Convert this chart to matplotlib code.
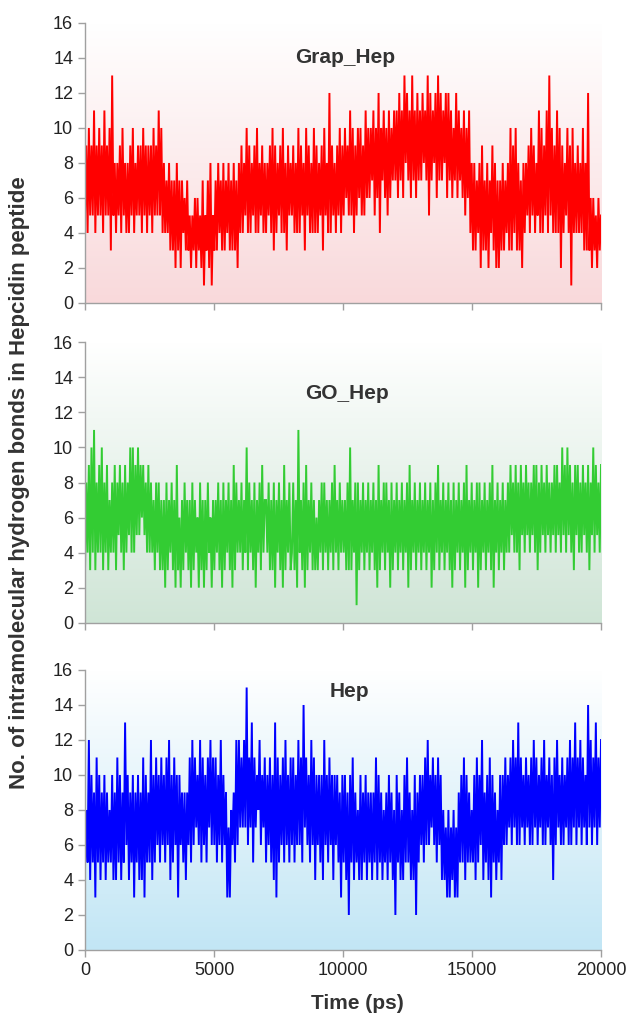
import matplotlib
matplotlib.use("Agg")
import matplotlib.pyplot as plt
import numpy as np
from matplotlib.colors import LinearSegmentedColormap

plt.rcParams["font.family"] = ["Liberation Sans", "DejaVu Sans"]

# H-bond counts, one hex digit per 50 ps frame
# (groups of 20 = 1000 ps).
grap_hep_counts = (
    "594a595b495a594b595a 3d5848594a5848495a48 59594a5949594a595b5a 48474837372837274637 "
    "35253626352715372815 37384738374837383728 49485a4948594a485948 48594a3948594a483958 "
    "59484a49583a59484a49 48593a584c4958495a49 5a695b5a495a6a595b6a 6a7b5a6c4a7b6a5b6a7b "
    "7b6c7b6d8c7b6d7b6c7b 7c8b7d5c7b8c6d7c7b8c 6c7b6a7c6b7a6b5a6b48 38374829373827493827 "
    "273837483a394a383728 48594a59485b4a495b4d 5a494b4a29485a491a48 49484a383c3626352635"
)
go_hep_counts = (
    "38493a4b38494a384937 484938594839485a4a49 5a596958494847384837 37283748372936273847 "
    "37283746283727384627 37483728374837293847 48374a38473827483947 74837382748372937483 "
    "48372b47382937483736 37483847374839473847 47383a37481837483748 37483729374838472837 "
    "48374837482937483748 37483748273849374837 48372837483748293748 37482837483748392748 "
    "37483748495849483958 49584859493849584958 485949584a594a594839 5948495849385a495849"
)
hep_counts = (
    "585c4a593b5a495a4958 5a494b5a495d6a495a39 5a494b3a595c4a5b6a5b 6a5b6c4a5b6a3a695949 "
    "6b5c6b7a6c5b6a5b7c6b 6b5a6c5a693738695c6c 7b7c7f6b7d5b7a8c6a7b 5a6b5a4d3b5a6b5c6a5b "
    "6b5a6c6b5e7b6a5c6b4a 6a5a4c6a5b6a4a6a593a 5a492a5b49584a495a49 59495b4a5948594a5948 "
    "2a59484a5b59484a295a 6a5b6c6a7b6a5b6a4847 38374837395a5b4a5958 5a4b5a6c495a4b3a5948 "
    "5a4a6b6a7b6c7b6d6b7a 6b7a6b6c7b6a7b6c6a7b 6a4b6c7a6b6a7b6c6b7d 6b7c6b7a6e7c6b7d6b7c"
)

panel_names = ["Grap_Hep", "GO_Hep", "Hep"]
panel_counts = [grap_hep_counts, go_hep_counts, hep_counts]
line_colors = ["#ff0000", "#33cc33", "#0000ff"]
bg_bottom = ["#f9d9db", "#cfe5d6", "#c2e6f5"]
label_pos = [(10100, 14.05), (10150, 13.1), (10250, 14.75)]

x_ticks = [0, 5000, 10000, 15000, 20000]
y_ticks = [0, 2, 4, 6, 8, 10, 12, 14, 16]
t_max = 20000

fig = plt.figure(figsize=(6.31, 10.17), dpi=100)
axes_boxes = [
    [0.1347, 0.7021, 0.8178, 0.2753],
    [0.1347, 0.3877, 0.8178, 0.2757],
    [0.1347, 0.0659, 0.8178, 0.2753],
]

for i, box in enumerate(axes_boxes):
    ax = fig.add_axes(box)
    vals = np.array([int(c, 16) for c in panel_counts[i].replace(" ", "")])
    t = np.linspace(0, t_max, len(vals))

    # white-to-tint vertical gradient behind the trace
    cmap = LinearSegmentedColormap.from_list("bg", ["#ffffff", bg_bottom[i]])
    grad = np.linspace(0, 1, 256).reshape(-1, 1)
    ax.imshow(grad, extent=[0, t_max, 0, 16], aspect="auto", cmap=cmap,
              origin="upper", zorder=0)

    ax.plot(t, vals, color=line_colors[i], lw=1.4, solid_joinstyle="miter", zorder=2)
    ax.text(*label_pos[i], panel_names[i], ha="center", va="center",
            fontsize=15, fontweight="bold", color="#333333", zorder=3)

    ax.set_xlim(0, t_max)
    ax.set_ylim(0, 16)
    ax.set_xticks(x_ticks)
    ax.set_yticks(y_ticks)
    for side in ["top", "right"]:
        ax.spines[side].set_visible(False)
    for side in ["left", "bottom"]:
        ax.spines[side].set_color("#a0a0a0")
        ax.spines[side].set_linewidth(1.0)
    ax.tick_params(colors="#a0a0a0", labelcolor="#222222", labelsize=13,
                   length=5, width=1.0, direction="out")
    if i < 2:
        ax.set_xticklabels([])

fig.text(0.031, 0.525, "No. of intramolecular hydrogen bonds in Hepcidin peptide",
         rotation=90, ha="center", va="center", fontsize=16, fontweight="bold",
         color="#333333")
fig.text(0.566, 0.0135, "Time (ps)", ha="center", va="center", fontsize=15,
         fontweight="bold", color="#333333")

fig.savefig("out.png", dpi=100)
